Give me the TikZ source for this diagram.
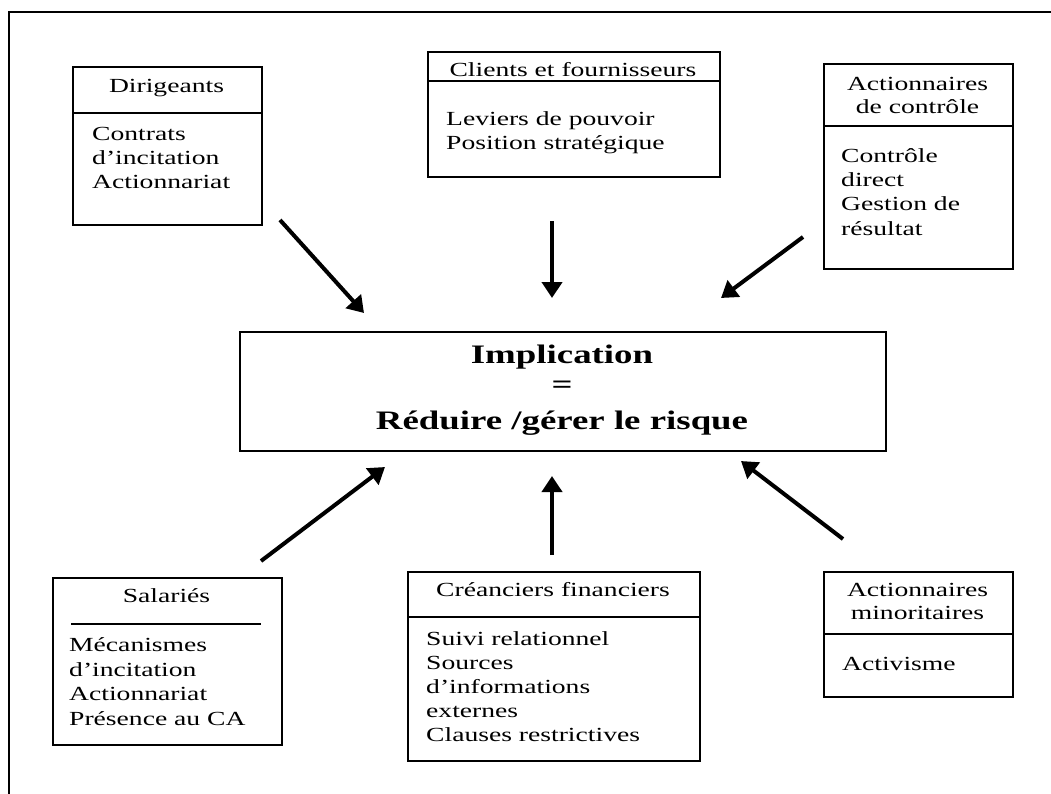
\documentclass[tikz,border=0pt]{standalone}
\usepackage{fontspec}
\setmainfont{Liberation Serif}[FakeStretch=1.38]
\usetikzlibrary{arrows.meta}
\tikzset{
  boxshape/.style={draw, line width=1.6pt, rectangle, anchor=north west, inner sep=0pt},
  divider/.style={line width=1.6pt},
  titletext/.style={inner sep=0pt, font=\fontsize{20}{23}\selectfont, align=center},
  bodytext/.style={inner sep=0pt, anchor=north west, font=\fontsize{20}{24.3}\selectfont, align=left},
  centertext/.style={inner sep=0pt, font=\fontsize{26.7}{30}\selectfont\bfseries},
  bigarrow/.style={line width=4pt, -{Triangle[length=16pt,width=20pt]}},
  frameline/.style={line width=2pt}
}
\begin{document}
\begin{tikzpicture}[x=1pt,y=-1pt]
\useasboundingbox (0,0) rectangle (1051,793);
\clip (0,0) rectangle (1051,793);
% outer frame (right and bottom edges lie outside the picture)
\draw[frameline] (9,820) -- (9,12) -- (1080,12);

% boxes
\node[boxshape, minimum width=189pt, minimum height=158pt] (dir) at (72,66) {};
\node[boxshape, minimum width=292pt, minimum height=125pt] (cli) at (427,51) {};
\node[boxshape, minimum width=189pt, minimum height=205pt] (act) at (823,63) {};
\node[boxshape, minimum width=646pt, minimum height=119pt] (imp) at (239,331) {};
\node[boxshape, minimum width=229pt, minimum height=167pt] (sal) at (52,577) {};
\node[boxshape, minimum width=292pt, minimum height=189pt] (cre) at (407,571) {};
\node[boxshape, minimum width=189pt, minimum height=125pt] (min) at (823,571) {};

% dividers
\draw[divider] (dir.west |- 0,113) -- (dir.east |- 0,113);
\draw[divider] (cli.west |- 0,81) -- (cli.east |- 0,81);
\draw[divider] (act.west |- 0,126) -- (act.east |- 0,126);
\draw[divider] (71,624) -- (261,624);
\draw[divider] (cre.west |- 0,617) -- (cre.east |- 0,617);
\draw[divider] (min.west |- 0,634) -- (min.east |- 0,634);

% Dirigeants
\node[titletext, anchor=base] (dirT) at (166.5,92) {Dirigeants};
\node[bodytext] (dirB) at (92,123) {\strut Contrats\\d'incitation\\Actionnariat};
% Clients
\node[titletext, anchor=base] (cliT) at (573,76) {Clients et fournisseurs};
\node[bodytext] (cliB) at (446,108) {\strut Leviers de pouvoir\\Position stratégique};
% Actionnaires de controle
\node[titletext, anchor=north] (actT) at (917.5,74) {\strut Actionnaires\\de contrôle};
\node[bodytext] (actB) at (841,145) {\strut Contrôle\\direct\\Gestion de\\résultat};
% Central
\node[centertext, anchor=base] (impA) at (562,363) {Implication};
\node[centertext, anchor=center] (impB) at (562,387) {=};
\node[centertext, anchor=base] (impC) at (562,429) {Réduire /gérer le risque};
% Salaries
\node[titletext, anchor=base] (salT) at (166.5,602) {Salariés};
\node[bodytext, font=\fontsize{20}{24.7}\selectfont] (salB) at (69,634) {\strut Mécanismes\\d'incitation\\Actionnariat\\Présence au CA};
% Creanciers
\node[titletext, anchor=base] (creT) at (553,596) {Créanciers financiers};
\node[bodytext, font=\fontsize{20}{24}\selectfont] (creB) at (426,628) {\strut Suivi relationnel\\Sources\\d'informations\\externes\\Clauses restrictives};
% Minoritaires
\node[titletext, anchor=north] (minT) at (917.5,580) {\strut Actionnaires\\minoritaires};
\node[titletext, anchor=base west] (minB) at (842,670) {Activisme};

% arrow end points
\coordinate (a1s) at (280,220); \coordinate (a1e) at (364,313);
\coordinate (a2s) at (552,221); \coordinate (a2e) at (552,298);
\coordinate (a3s) at (803,237); \coordinate (a3e) at (721,298);
\coordinate (a4s) at (261,561); \coordinate (a4e) at (385,467);
\coordinate (a5s) at (552,555); \coordinate (a5e) at (552,476);
\coordinate (a6s) at (843,539); \coordinate (a6e) at (741,461);
\draw[bigarrow] (a1s) -- (a1e);
\draw[bigarrow] (a2s) -- (a2e);
\draw[bigarrow] (a3s) -- (a3e);
\draw[bigarrow] (a4s) -- (a4e);
\draw[bigarrow] (a5s) -- (a5e);
\draw[bigarrow] (a6s) -- (a6e);
\end{tikzpicture}
\end{document}
